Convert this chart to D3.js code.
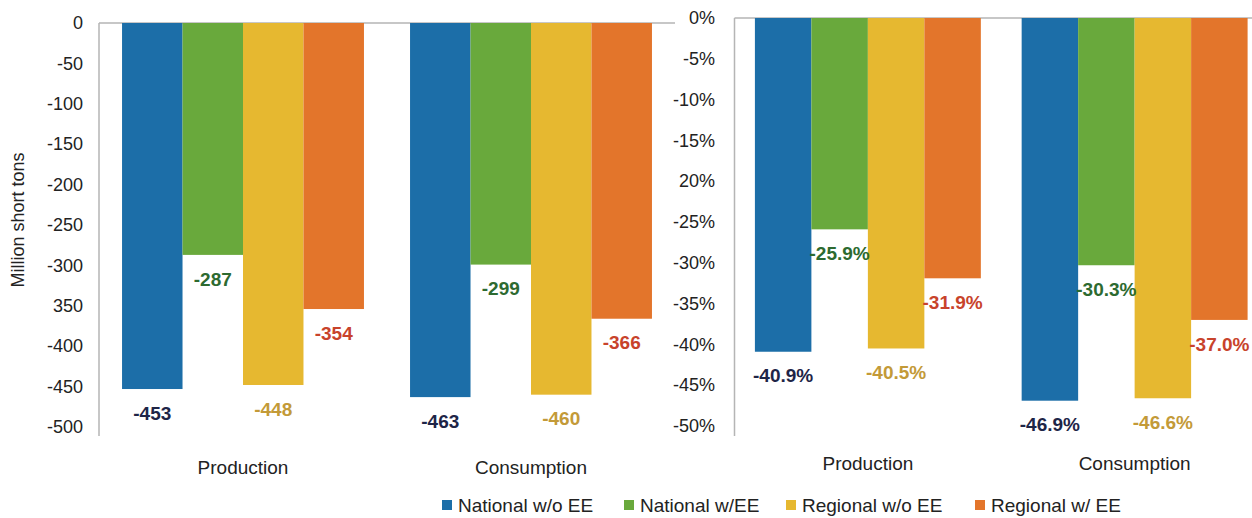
<!DOCTYPE html>
<html>
<head>
<meta charset="utf-8">
<script src="https://cdn.jsdelivr.net/npm/d3@7"></script>
<style>
  html, body { margin: 0; padding: 0; background: #fff; }
  svg { display: block; }
</style>
</head>
<body>
<svg id="chart" width="1252" height="518"></svg>
<script>
// Emission reductions by scenario: absolute (left panel) and percentage (right panel)
const categories = ["Production", "Consumption"];
const scenarios = ["National w/o EE", "National w/EE", "Regional w/o EE", "Regional w/ EE"];

// Million short tons
const tonsProduction = [-453, -287, -448, -354];
const tonsConsumption = [-463, -299, -460, -366];

// Percent change
const pctProduction = [-40.9, -25.9, -40.5, -31.9];
const pctConsumption = [-46.9, -30.3, -46.6, -37.0];

const tonsTicks = [0, -50, -100, -150, -200, -250, -300, -350, -400, -450, -500];
const tonsTickLabels = ["0", "-50", "-100", "-150", "-200", "-250", "-300", "350", "-400", "-450", "-500"];
const pctTicks = [0, -5, -10, -15, -20, -25, -30, -35, -40, -45, -50];
const pctTickLabels = ["0%", "-5%", "-10%", "-15%", "20%", "-25%", "-30%", "-35%", "-40%", "-45%", "-50%"];

const barColors = ["#1c6ea8", "#69a93c", "#e6b830", "#e3752b"];
const labelColors = ["#1e2547", "#2d6a30", "#c39a38", "#c8432b"];

// plain hyphen for negative numbers
const locale = d3.formatLocale({ decimal: ".", thousands: ",", grouping: [3], currency: ["", ""], minus: "-" });
const fmtInt = locale.format("d");
const fmtPct = d => locale.format(".1f")(d) + "%";

const svg = d3.select("#chart");
const sans = "'Liberation Sans', Arial, sans-serif";

function panel(opts) {
  const g = svg.append("g");
  const y = d3.scaleLinear().domain([0, opts.min]).range([opts.top, opts.bottom]);
  const x = d3.scaleBand().domain(categories).range([opts.left, opts.right])
    .paddingInner(opts.padInner).paddingOuter(opts.padOuter);
  const xs = d3.scaleBand().domain(scenarios).range([0, x.bandwidth()]);

  // frame lines: vertical axis and zero baseline
  g.append("line")
    .attr("x1", opts.left).attr("x2", opts.left)
    .attr("y1", y(0)).attr("y2", opts.axisEnd)
    .attr("stroke", "#b5b5b5").attr("stroke-width", 1.5);
  g.append("line")
    .attr("x1", opts.left).attr("x2", opts.baselineEnd)
    .attr("y1", y(0)).attr("y2", y(0))
    .attr("stroke", "#b5b5b5").attr("stroke-width", 1.5);

  // tick labels
  const axis = d3.axisLeft(y).tickValues(opts.ticks)
    .tickFormat((d, i) => opts.tickLabels[i]).tickSize(0).tickPadding(0);
  const ag = g.append("g").attr("transform", `translate(${opts.tickX},0)`).call(axis);
  ag.select(".domain").remove();
  ag.selectAll("text")
    .style("font-family", sans)
    .style("font-size", "18px").attr("fill", "#222");

  // bars and value labels
  const groups = g.selectAll(".grp").data(categories).join("g")
    .attr("transform", d => `translate(${x(d)},0)`);
  groups.each(function (cat, ci) {
    const vals = opts.values[ci];
    const gg = d3.select(this);
    gg.selectAll("rect").data(vals).join("rect")
      .attr("x", (d, i) => xs(scenarios[i]))
      .attr("width", xs.bandwidth())
      .attr("y", y(0))
      .attr("height", d => y(d) - y(0))
      .attr("fill", (d, i) => barColors[i]);
    gg.selectAll("text").data(vals).join("text")
      .attr("x", (d, i) => xs(scenarios[i]) + xs.bandwidth() / 2)
      .attr("y", d => y(d) + 24)
      .attr("dy", "0.35em")
      .attr("text-anchor", "middle")
      .style("font-family", sans).style("font-weight", "bold").style("font-size", "19px")
      .attr("fill", (d, i) => labelColors[i])
      .text(d => opts.fmt(d));
  });

  // category labels
  g.selectAll(".cat").data(categories).join("text")
    .attr("x", d => x(d) + x.bandwidth() / 2)
    .attr("y", opts.catY)
    .attr("dy", "0.35em")
    .attr("text-anchor", "middle")
    .style("font-family", sans)
    .style("font-size", "19px").attr("fill", "#222")
    .text(d => d);
}

panel({
  min: -500, top: 23, bottom: 427,
  left: 99, right: 675, padInner: 0.16, padOuter: 0.08,
  axisEnd: 436, baselineEnd: 675, tickX: 83,
  ticks: tonsTicks, tickLabels: tonsTickLabels,
  values: [tonsProduction, tonsConsumption],
  fmt: fmtInt, catY: 467
});

panel({
  min: -50, top: 18, bottom: 426,
  left: 734.5, right: 1268, padInner: 0.153, padOuter: 0.0765,
  axisEnd: 436, baselineEnd: 1252, tickX: 715,
  ticks: pctTicks, tickLabels: pctTickLabels,
  values: [pctProduction, pctConsumption],
  fmt: fmtPct, catY: 463
});

// y-axis title
svg.append("text")
  .attr("transform", "translate(18,220) rotate(-90)")
  .attr("text-anchor", "middle").attr("dy", "0.35em")
  .style("font-family", sans)
  .style("font-size", "18px").attr("fill", "#222")
  .text("Million short tons");

// legend
const legendX = [442, 624, 786, 975];
const lg = svg.append("g");
scenarios.forEach((s, i) => {
  lg.append("rect").attr("x", legendX[i]).attr("y", 500).attr("width", 10).attr("height", 10)
    .attr("fill", barColors[i]);
  lg.append("text").attr("x", legendX[i] + 16).attr("y", 505).attr("dy", "0.35em")
    .style("font-family", sans)
    .style("font-size", "19px").attr("fill", "#222")
    .text(s);
});
</script>
</body>
</html>
